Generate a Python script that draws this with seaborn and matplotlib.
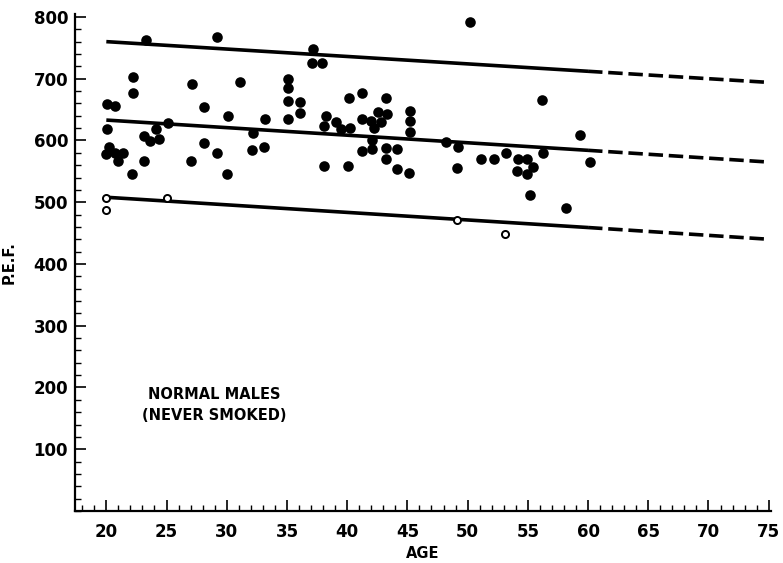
import matplotlib
matplotlib.use("Agg")
import matplotlib.pyplot as plt
import seaborn as sns
from matplotlib.ticker import MultipleLocator

# Filled circles (never smoked, normal males)
filled_age = [20.05, 20.7, 22.2, 22.2, 23.3, 29.2, 27.1, 31.1, 28.15, 30.1,
              33.2, 25.1, 20.05, 24.1, 23.1, 23.6, 24.4, 20.2, 20.0, 20.7,
              21.4, 21.0, 23.1, 22.1, 28.1, 29.15, 27.05, 30.05, 32.2, 32.1,
              33.1, 37.2, 37.1, 37.9, 35.1, 35.1, 35.1, 36.1, 36.1, 35.1,
              40.15, 41.2, 43.2, 38.2, 39.05, 38.1, 39.5, 40.25, 41.2, 42.0,
              42.6, 43.3, 42.8, 42.2, 45.2, 45.2, 45.2, 42.1, 48.2, 41.2,
              42.1, 43.2, 44.1, 43.2, 38.1, 40.1, 44.1, 45.15, 50.2, 56.2,
              59.3, 49.2, 49.15, 51.15, 52.15, 53.15, 54.15, 54.9, 55.4, 54.1,
              54.9, 56.25, 60.2, 55.2, 58.2]
filled_pef = [659, 656, 703, 677, 763, 768, 691, 695, 654, 640,
              634, 628, 618, 619, 607, 599, 603, 590, 578, 580,
              580, 566, 567, 546, 596, 580, 566, 546, 612, 585,
              589, 748, 726, 726, 700, 685, 664, 663, 644, 634,
              668, 677, 669, 639, 630, 623, 618, 620, 634, 632,
              646, 643, 630, 620, 648, 631, 613, 600, 598, 583,
              586, 587, 586, 570, 558, 559, 554, 547, 792, 665,
              609, 590, 555, 570, 570, 580, 570, 570, 557, 550,
              546, 579, 565, 512, 490]

# Open circles
open_age = [20.0, 20.0, 25.0, 49.1, 53.1]
open_pef = [507, 488, 506, 471, 448]

# Regression line and limits: solid 20-60, dashed 60-75
line_age = [20, 60, 75]
upper_pef = [760, 712, 694]
middle_pef = [633, 584, 565]
lower_pef = [508, 459, 440]

sns.set_style("ticks", {"text.color": "black", "xtick.color": "black",
                        "ytick.color": "black", "axes.edgecolor": "black",
                        "axes.labelcolor": "black"})
plt.rcParams['font.family'] = ['DejaVu Sans']

fig = plt.figure(figsize=(7.83, 5.63), dpi=100)
ax = fig.add_axes([0.0958, 0.0924, 0.889, 0.883])

for band in (upper_pef, middle_pef, lower_pef):
    sns.lineplot(x=line_age[:2], y=band[:2], ax=ax, color="black", lw=2.6,
                 solid_capstyle="butt")
    sns.lineplot(x=line_age[1:], y=band[1:], ax=ax, color="black", lw=2.6,
                 linestyle=(0, (4, 1.6)), dash_capstyle="butt")

sns.scatterplot(x=filled_age, y=filled_pef, ax=ax, color="black", s=58,
                edgecolor="black", linewidth=0, zorder=3)
sns.scatterplot(x=open_age, y=open_pef, ax=ax, facecolor="white", s=26,
                edgecolor="black", linewidth=1.4, zorder=3)

ax.set_xlim(17.4, 75.2)
ax.set_ylim(0, 805)
ax.set_xticks(range(20, 80, 5))
ax.set_yticks(range(100, 900, 100))
ax.xaxis.set_minor_locator(MultipleLocator(1))
ax.yaxis.set_minor_locator(MultipleLocator(20))
ax.tick_params(axis="both", which="major", direction="in", length=8,
               width=1.2, labelsize=12, colors="black")
ax.tick_params(axis="x", which="major", pad=9)
ax.tick_params(axis="y", which="major", pad=5)
ax.tick_params(axis="both", which="minor", direction="in", length=4,
               width=1.0, colors="black")
for lab in ax.get_xticklabels() + ax.get_yticklabels():
    lab.set_fontweight("bold")

sns.despine(ax=ax)
ax.spines["left"].set_linewidth(1.6)
ax.spines["bottom"].set_linewidth(1.6)

ax.set_xlabel("AGE", fontsize=10.5, fontweight="bold", labelpad=3)
ax.set_ylabel("P.E.F.", fontsize=10.5, fontweight="bold", labelpad=12)

ax.text(29.0, 172, "NORMAL MALES\n(NEVER SMOKED)", ha="center", va="center",
        fontsize=10.5, fontweight="bold", linespacing=1.5, color="black")

fig.savefig("out.png", dpi=100)
